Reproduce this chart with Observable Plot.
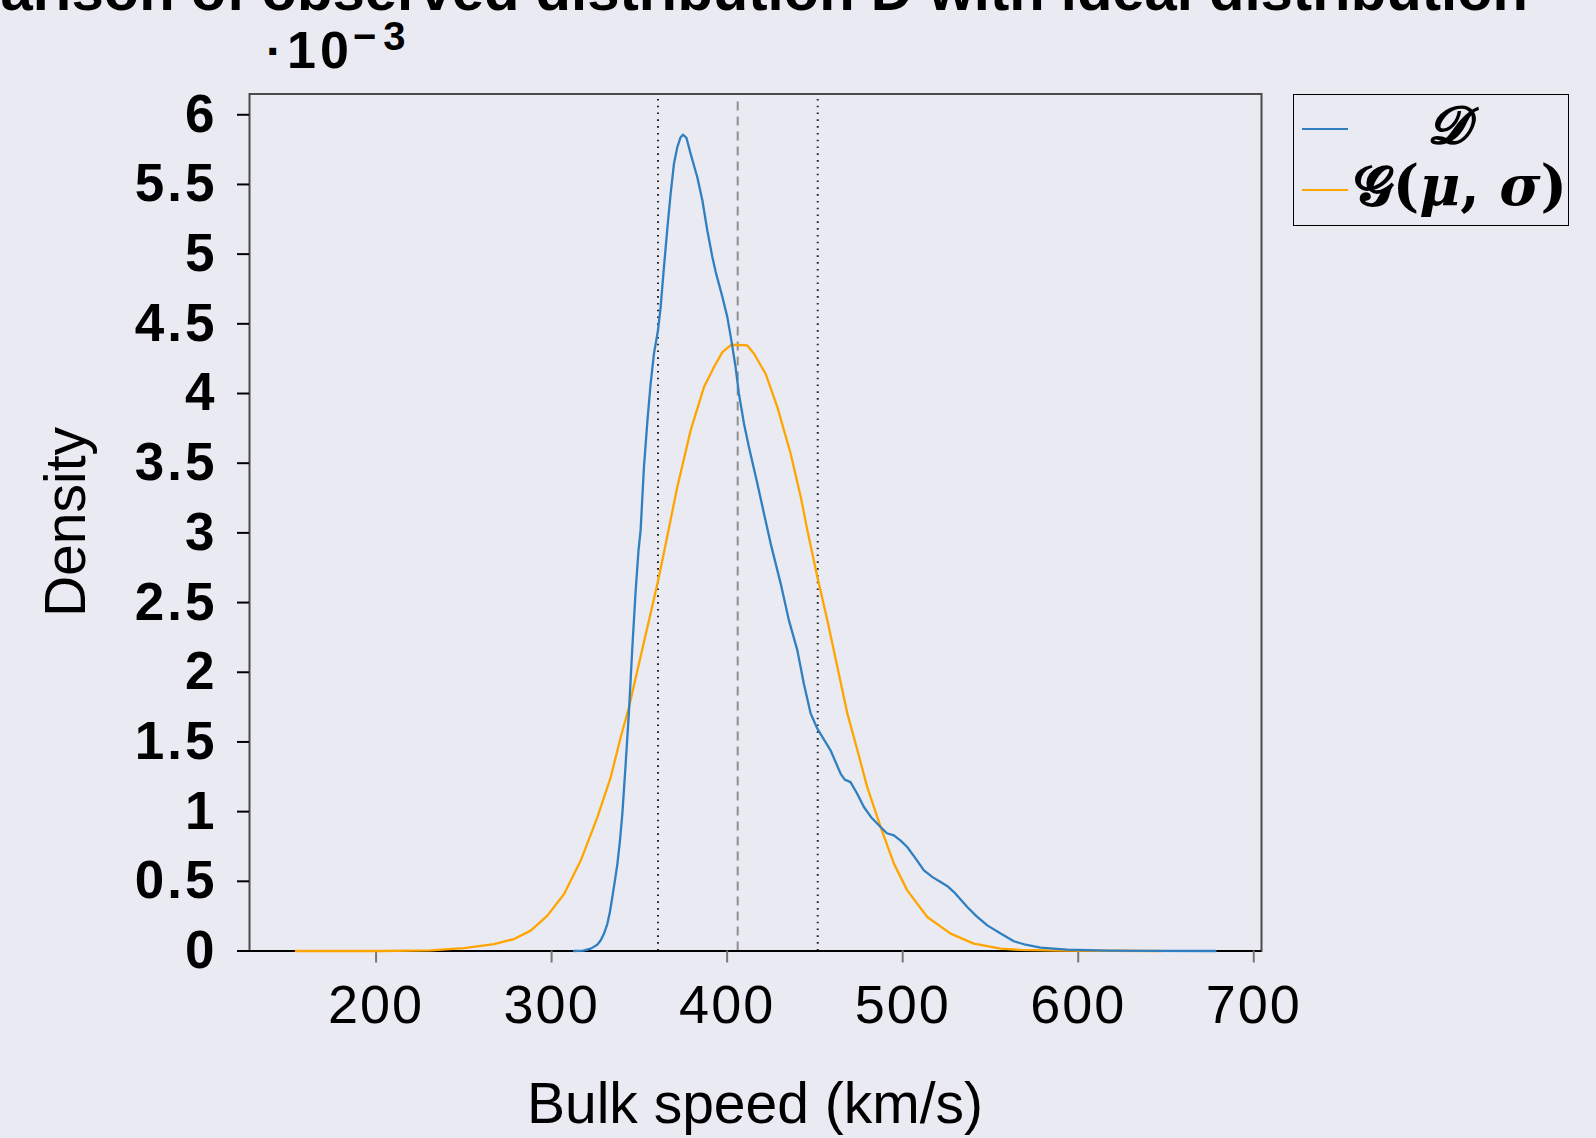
<!DOCTYPE html>
<html>
<head>
<meta charset="utf-8">
<script src="https://cdn.jsdelivr.net/npm/d3@7"></script>
<script src="https://cdn.jsdelivr.net/npm/@observablehq/plot@0.6"></script>
<style>
  html, body { margin: 0; padding: 0; background: #eaeaf2; }
  #wrap { position: relative; width: 1596px; height: 1138px; overflow: hidden; background: #eaeaf2; font-family: "Liberation Sans", Arial, Helvetica, sans-serif; color: #000; }
  #chart { position: absolute; left: 0; top: 0; }
  .abs { position: absolute; white-space: nowrap; line-height: 1; }
  g[aria-label="y-axis tick label"] text { font-weight: bold; letter-spacing: 3px; }
  g[aria-label="x-axis tick label"] text { letter-spacing: 2px; }
</style>
</head>
<body>
<div id="wrap">
  <div id="chart"></div>
  <div class="abs" id="title" style="right:68px; top:-32.8px; font-size:58px; line-height:0.8; font-weight:bold;">Comparison of observed distribution D with ideal distribution</div>
  <div class="abs" id="expo" style="left:266px; top:24px; font-size:52px; font-weight:bold; line-height:1;"><span style="font-size:48px">·</span><span style="margin-left:5px; letter-spacing:4px;">10</span><span style="font-size:40px; line-height:0.8; position:relative; top:-18px; letter-spacing:7px;">−3</span></div>
  <div class="abs" id="ylabel" style="left:65px; top:522px; font-size:57px; transform: translate(-50%,-50%) rotate(-90deg);">Density</div>
  <div class="abs" id="xlabel" style="left:755px; top:1074.8px; font-size:57px; transform: translateX(-50%);">Bulk speed (km/s)</div>
  <div class="abs" id="legend" style="left:1292.7px; top:93.6px; width:274px; height:130px; border:1.5px solid #000;">
  </div>
</div>
<script>
// ---- data (density values in units of 1e-3) ----
const obsSpeed = [312.8, 318, 322.3, 326, 328, 330, 331.8, 333.2, 334.6, 336, 337.5, 339, 340.3, 342.2, 344.1, 346.0, 347.9, 349.5, 350.7, 352.6, 354.6, 356.4, 358.3, 360.6, 362.1, 364, 366, 367.8, 369.7, 371.6, 373.5, 374.8, 376.8, 379.2, 383, 385.9, 388.7, 391.6, 393.5, 397.3, 400.1, 402.4, 404.8, 406.7, 409.6, 412.4, 417.0, 421, 424.8, 430.5, 435.2, 440, 443.7, 447.6, 451.4, 455, 458.9, 464.6, 467, 470.3, 474, 477.9, 482, 487.4, 491, 495, 499, 502.6, 507, 512.1, 517, 521.6, 525.5, 529.2, 533, 536.8, 542, 548.2, 555.8, 563.3, 570, 578.5, 593.7, 617, 640, 678.2];
const obsDensity = [0, 0.003, 0.017, 0.045, 0.077, 0.13, 0.197, 0.28, 0.387, 0.5, 0.627, 0.8, 0.986, 1.344, 1.727, 2.181, 2.588, 2.874, 3.018, 3.472, 3.807, 4.07, 4.285, 4.453, 4.62, 4.907, 5.194, 5.433, 5.648, 5.768, 5.839, 5.857, 5.835, 5.72, 5.552, 5.385, 5.17, 4.978, 4.871, 4.692, 4.548, 4.381, 4.19, 3.999, 3.783, 3.616, 3.365, 3.138, 2.923, 2.636, 2.372, 2.157, 1.918, 1.703, 1.595, 1.52, 1.44, 1.273, 1.23, 1.212, 1.13, 1.033, 0.96, 0.89, 0.845, 0.83, 0.79, 0.746, 0.67, 0.579, 0.53, 0.495, 0.465, 0.423, 0.37, 0.316, 0.25, 0.184, 0.125, 0.07, 0.045, 0.024, 0.01, 0.003, 0.001, 0];

const idealSpeed = [154.3, 202.6, 231.2, 250.1, 267.2, 278.6, 288.1, 297.6, 307.1, 316.6, 326.1, 333.7, 339.4, 344.1, 348.9, 354.6, 360.3, 364, 371.6, 379.2, 386.8, 392.5, 397.3, 402.4, 411.5, 415.3, 421.9, 428.6, 436.2, 441.9, 445.7, 451.4, 457.1, 462.8, 468.5, 474.2, 479.8, 487.4, 495, 502.6, 514, 527.3, 540.5, 555.8, 567, 590, 647.4];
const idealDensity = [0, 0, 0.005, 0.02, 0.05, 0.086, 0.146, 0.254, 0.409, 0.649, 0.961, 1.248, 1.535, 1.75, 2.014, 2.324, 2.636, 2.86, 3.329, 3.735, 4.046, 4.19, 4.297, 4.35, 4.345, 4.285, 4.142, 3.902, 3.568, 3.26, 3.018, 2.683, 2.372, 2.037, 1.703, 1.44, 1.176, 0.89, 0.627, 0.435, 0.244, 0.125, 0.053, 0.017, 0.008, 0.002, 0];

const refSpeed = [360.6, 406.0, 451.6];           // mu - sigma, mu, mu + sigma
const refKind  = ["dotted", "dashed", "dotted"];
const refTop = 6.12;

const xTicks = [200, 300, 400, 500, 600, 700];
const yTicks = [0, 0.5, 1, 1.5, 2, 2.5, 3, 3.5, 4, 4.5, 5, 5.5, 6];

const seriesNames = ["\u{1D4D3}", "\u{1D4D6}(\u03BC, \u03C3)"];
const seriesColors = ["#2f7fc1", "#ffa500"];

// ---- tables ----
const obs = obsSpeed.map((x, i) => ({x, y: obsDensity[i]}));
const ideal = idealSpeed.map((x, i) => ({x, y: idealDensity[i]}));
const refs = refSpeed.map((x, i) => ({x, kind: refKind[i], y2: refTop}));

const chart = Plot.plot({
  width: 1596,
  height: 1138,
  marginTop: 93.5,
  marginLeft: 249,
  marginRight: 335,
  marginBottom: 187.5,
  style: {background: "transparent", fontFamily: "Liberation Sans, Arial, sans-serif", color: "#000"},
  x: {domain: [127.9, 704.4]},
  y: {domain: [0, 6.149]},
  marks: [
    Plot.frame({stroke: "#4a4a4a", strokeWidth: 2}),
    Plot.ruleX(refs.filter(d => d.kind === "dotted"), {x: "x", y1: 0, y2: "y2", stroke: "#222", strokeWidth: 2, strokeDasharray: "1.6,5.2"}),
    Plot.ruleX(refs.filter(d => d.kind === "dashed"), {x: "x", y1: 0, y2: "y2", stroke: "#8f8f8f", strokeWidth: 2, strokeDasharray: "9,6"}),
    Plot.ruleY([0], {stroke: "#000", strokeWidth: 2}),
    Plot.axisY({ticks: yTicks, tickSize: 12, tickPadding: 20, fontSize: 53, fontWeight: "bold", tickFormat: d => String(d), label: null, stroke: "#000", strokeWidth: 2}),
    Plot.axisX({ticks: xTicks, tickSize: 12, tickPadding: 22, fontSize: 54, tickFormat: d => String(d), label: null, stroke: "#777", strokeWidth: 2}),
    Plot.line(ideal, {x: "x", y: "y", stroke: seriesColors[1], strokeWidth: 2.3}),
    Plot.line(obs, {x: "x", y: "y", stroke: seriesColors[0], strokeWidth: 2.3})
  ]
});
document.getElementById("chart").appendChild(chart);

// ---- legend ----
const leg = document.getElementById("legend");
const swatchTops = [33.2, 94.2];
seriesNames.forEach((name, i) => {
  const sw = document.createElement("div");
  sw.style.cssText = `position:absolute;left:8px;top:${swatchTops[i]}px;width:46px;height:0;border-top:2px solid ${seriesColors[i]};`;
  leg.appendChild(sw);
});
const t1 = document.createElement("div");
t1.className = "abs";
t1.style.cssText = "position:absolute; left:134px; top:4px; font-size:52px; font-family:'DejaVu Serif','DejaVu Sans',serif; font-weight:bold; font-style:italic; line-height:1;";
t1.textContent = seriesNames[0];
leg.appendChild(t1);
const t2 = document.createElement("div");
t2.className = "abs";
t2.style.cssText = "position:absolute; left:60px; top:62px; font-size:56px; font-family:'DejaVu Serif','DejaVu Sans',serif; font-weight:bold; line-height:1;";
t2.innerHTML = "\u{1D4D6}(<i>\u03BC</i>, <i>\u03C3</i>)";
leg.appendChild(t2);
</script>
</body>
</html>
